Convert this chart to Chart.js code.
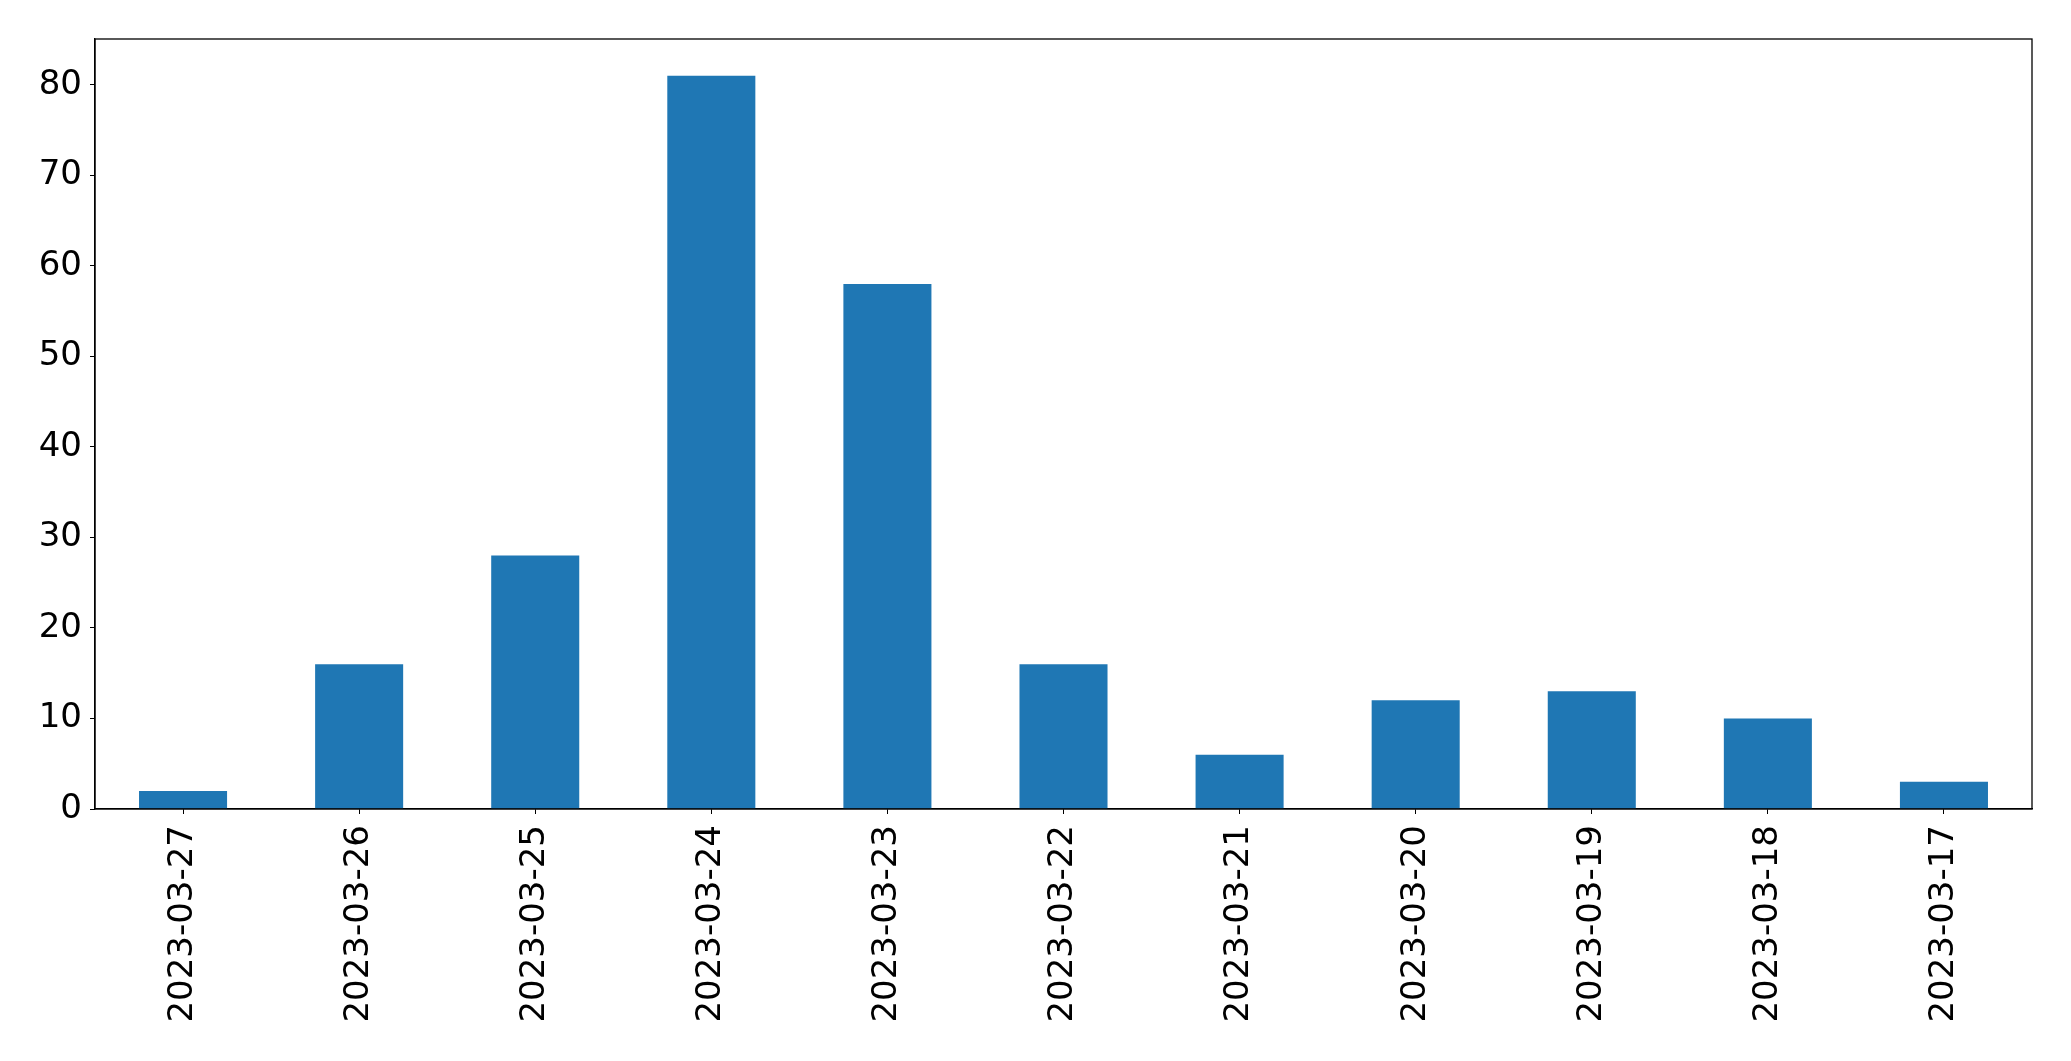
<!DOCTYPE html>
<html>
<head>
<meta charset="utf-8">
<script src="https://cdn.jsdelivr.net/npm/chart.js@4/dist/chart.umd.min.js"></script>
<style>
  html, body { margin: 0; padding: 0; background: #fff; }
  canvas { display: block; }
</style>
</head>
<body>
<canvas id="chart" width="2071" height="1061"></canvas>
<script>
const dates = ['2023-03-27', '2023-03-26', '2023-03-25', '2023-03-24', '2023-03-23', '2023-03-22',
  '2023-03-21', '2023-03-20', '2023-03-19', '2023-03-18', '2023-03-17'];
const counts = [2, 16, 28, 81, 58, 16, 6, 12, 13, 10, 3];
const yTicks = [0, 10, 20, 30, 40, 50, 60, 70, 80];

// box around the plot area, like matplotlib's spines
const frame = {
  id: 'frame',
  afterDraw(chart) {
    const { ctx, chartArea: a } = chart;
    ctx.save();
    ctx.strokeStyle = '#000';
    ctx.lineWidth = 1.3;
    ctx.strokeRect(a.left, a.top, a.right - a.left, a.bottom - a.top);
    ctx.restore();
  }
};

new Chart(document.getElementById('chart'), {
  type: 'bar',
  data: {
    labels: dates,
    datasets: [{ data: counts, backgroundColor: '#1f77b4', barPercentage: 0.5, categoryPercentage: 1 }]
  },
  options: {
    responsive: false,
    animation: false,
    layout: { padding: { top: 39, right: 39, left: 0, bottom: 0 } },
    plugins: { legend: { display: false }, tooltip: { enabled: false } },
    scales: {
      x: {
        grid: { display: true, offset: false, drawOnChartArea: false, drawTicks: true, tickLength: 5, color: '#000' },
        border: { display: true, color: '#000', width: 1.3 },
        ticks: { color: '#000', font: { family: 'DejaVu Sans', size: 34 }, minRotation: 90, maxRotation: 90, padding: 11, autoSkip: false },
        afterFit(s) { s.height = 252; }
      },
      y: {
        min: 0,
        max: 85.05,
        afterBuildTicks(s) { s.ticks = yTicks.map(v => ({ value: v })); },
        grid: { display: true, drawOnChartArea: false, drawTicks: true, tickLength: 5, color: '#000' },
        border: { display: true, color: '#000', width: 1.3 },
        ticks: { color: '#000', font: { family: 'DejaVu Sans', size: 34 }, padding: 8 },
        afterFit(s) { s.width = 95; }
      }
    }
  },
  plugins: [frame]
});
</script>
</body>
</html>
